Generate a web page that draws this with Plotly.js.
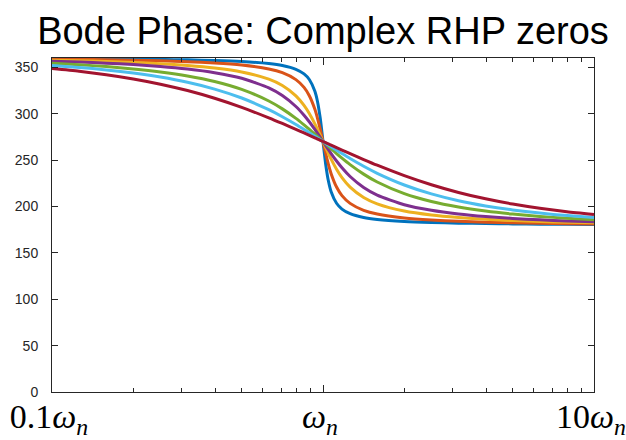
<!DOCTYPE html>
<html>
<head>
<meta charset="utf-8">
<script src="https://cdn.plot.ly/plotly-3.0.1.min.js"></script>
<style>html,body{margin:0;padding:0;background:#fff;}#chart{width:626px;height:440px;}</style>
</head>
<body>
<div id="chart"></div>
<script>
// frequency (normalised to omega_n)
const omega = [0.1, 0.1259, 0.1585, 0.1995, 0.2512, 0.3162, 0.3981, 0.5012, 0.631, 0.7079, 0.7943, 0.8511, 0.8913, 0.9333, 0.955, 0.9772, 1, 1.0233, 1.0471, 1.0715, 1.122, 1.1749, 1.2589, 1.4125, 1.5849, 1.9953, 2.5119, 3.1623, 3.9811, 5.0119, 6.3096, 7.9433, 10];

// phase (deg) of each curve
const phaseBlue   = [359.42, 359.27, 359.07, 358.81, 358.46, 357.99, 357.29, 356.17, 354.02, 351.92, 347.85, 342.84, 336.57, 324.13, 312.65, 294.73, 270, 245.27, 227.35, 215.87, 203.43, 197.17, 192.15, 188.08, 185.98, 183.83, 182.71, 182.01, 181.54, 181.19, 180.93, 180.73, 180.58];
const phaseOrange = [358.84, 358.53, 358.14, 357.62, 356.93, 355.98, 354.60, 352.38, 348.16, 344.15, 336.71, 328.29, 319.08, 304.66, 294.73, 282.97, 270, 257.03, 245.27, 235.34, 220.92, 211.71, 203.29, 195.85, 191.84, 187.62, 185.41, 184.02, 183.07, 182.38, 181.86, 181.47, 181.16];
const phaseYellow = [357.69, 357.07, 356.28, 355.25, 353.88, 352.00, 349.28, 345.01, 337.25, 330.42, 319.27, 308.99, 299.98, 289.07, 282.97, 276.57, 270, 263.43, 257.03, 250.93, 240.02, 231.01, 220.73, 209.58, 202.75, 194.99, 190.72, 188.00, 186.12, 184.75, 183.72, 182.93, 182.31];
const phasePurple = [356.53, 355.61, 354.43, 352.89, 350.86, 348.10, 344.15, 338.12, 327.83, 319.58, 307.75, 298.35, 291.04, 282.98, 278.73, 274.39, 270, 265.61, 261.27, 257.02, 248.96, 241.65, 232.25, 220.42, 212.17, 201.88, 195.85, 191.91, 189.14, 187.11, 185.57, 184.39, 183.47];
const phaseGreen  = [354.23, 352.71, 350.77, 348.26, 344.99, 340.64, 334.68, 326.20, 313.65, 305.17, 294.92, 287.94, 282.99, 277.87, 275.26, 272.64, 270, 267.36, 264.74, 262.13, 257.01, 252.06, 245.08, 234.83, 226.35, 213.80, 205.32, 199.36, 195.01, 191.74, 189.23, 187.29, 185.77];
const phaseCyan   = [351.95, 349.85, 347.18, 343.78, 339.43, 333.81, 326.49, 316.86, 304.27, 296.72, 288.36, 283.02, 279.36, 275.64, 273.77, 271.88, 270, 268.12, 266.23, 264.36, 260.64, 256.98, 251.64, 243.28, 235.73, 223.14, 213.51, 206.19, 200.57, 196.22, 192.82, 190.15, 188.05];
const phaseRed    = [348.58, 345.65, 341.99, 337.43, 331.80, 324.90, 316.58, 306.76, 295.50, 289.41, 283.08, 279.20, 276.58, 273.95, 272.64, 271.32, 270, 268.68, 267.36, 266.05, 263.42, 260.80, 256.92, 250.59, 244.50, 233.24, 223.42, 215.10, 208.20, 202.57, 197.99, 194.35, 191.42];

const xTickVals = [0.1, 1, 10];
const xTickText = ['0.1<i>ω</i><sub><i>n</i></sub>', '<i>ω</i><sub><i>n</i></sub>', '10<i>ω</i><sub><i>n</i></sub>'];
const xMinorVals = [0.2, 0.3, 0.4, 0.5, 0.6, 0.7, 0.8, 0.9, 2, 3, 4, 5, 6, 7, 8, 9];
const yTickVals = [0, 50, 100, 150, 200, 250, 300, 350];

const series = [phaseBlue, phaseOrange, phaseYellow, phasePurple, phaseGreen, phaseCyan, phaseRed];
const colors = ['#0072BD', '#D95319', '#EDB120', '#7E2F8E', '#77AC30', '#4DBEEE', '#A2142F'];

const traces = series.map((ys, i) => ({
  x: omega, y: ys, type: 'scatter', mode: 'lines',
  line: {color: colors[i], width: 3, shape: 'spline', smoothing: 0.6},
  showlegend: false, hoverinfo: 'skip'
}));

const axisColor = '#262626';
const layout = {
  width: 626, height: 440,
  margin: {l: 52, r: 32, t: 58, b: 48, pad: 0},
  paper_bgcolor: '#ffffff', plot_bgcolor: '#ffffff',
  title: {
    text: 'Bode Phase: Complex RHP zeros',
    font: {family: 'Liberation Sans, Arial, sans-serif', size: 38, color: '#000000'},
    x: 0.5, xref: 'paper', y: 0.93, yref: 'container', yanchor: 'middle'
  },
  xaxis: {
    type: 'log', range: [-1, 1],
    tickmode: 'array', tickvals: xTickVals, ticktext: xTickText,
    ticks: 'inside', ticklen: 7, tickwidth: 1, tickcolor: axisColor,
    minor: {tickmode: 'array', tickvals: xMinorVals, ticks: 'inside', ticklen: 4, tickwidth: 1, tickcolor: axisColor},
    showline: true, linecolor: axisColor, linewidth: 1, mirror: 'allticks',
    showgrid: false, zeroline: false,
    ticklabelstandoff: -6, ticklabelshift: -3, ticklabeloverflow: 'allow',
    tickfont: {family: 'Liberation Serif, Times New Roman, serif', size: 34, color: '#000000'}
  },
  yaxis: {
    range: [0, 360],
    tickmode: 'array', tickvals: yTickVals,
    ticks: 'inside', ticklen: 6, tickwidth: 1, tickcolor: axisColor,
    showline: true, linecolor: axisColor, linewidth: 1, mirror: 'allticks',
    showgrid: false, zeroline: false,
    ticklabelstandoff: 10,
    tickfont: {family: 'Liberation Sans, Arial, sans-serif', size: 14, color: axisColor}
  }
};

Plotly.newPlot('chart', traces, layout, {staticPlot: true, displayModeBar: false});
</script>
</body>
</html>
